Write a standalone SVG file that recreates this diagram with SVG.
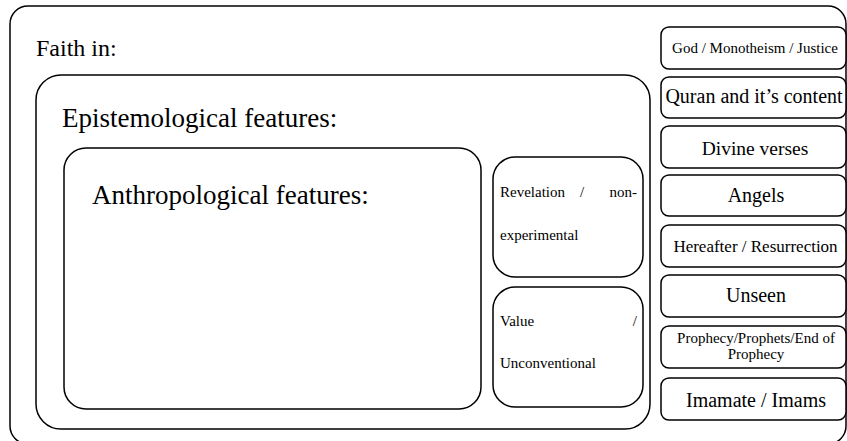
<svg xmlns="http://www.w3.org/2000/svg" width="847" height="441" viewBox="0 0 847 441">
<style>
.box{fill:#fff;stroke:#000;stroke-width:1.5}
.t{font-family:"Liberation Serif","Times New Roman",serif;fill:#000}
.rt{font-family:"Liberation Serif","Times New Roman",serif;fill:#000;text-anchor:middle}
</style>
<rect width="847" height="441" fill="#fff"/>
<g id="faith">
<rect class="box" x="10" y="6" width="836" height="438" rx="18"/>
<text class="t" x="36" y="56" font-size="24">Faith in:</text>
</g>
<g id="epistemological">
<rect class="box" x="36" y="75" width="614" height="354" rx="25"/>
<text class="t" x="62" y="127" font-size="27">Epistemological features:</text>
</g>
<g id="anthropological">
<rect class="box" x="64" y="148" width="417" height="261" rx="22"/>
<text class="t" x="92" y="204" font-size="27">Anthropological features:</text>
</g>
<g id="revelation">
<rect class="box" x="493" y="157" width="150" height="120" rx="22"/>
<text class="t" font-size="15"><tspan x="500" y="197">Revelation</tspan><tspan x="580" y="197">/</tspan><tspan x="637" y="197" text-anchor="end">non-</tspan><tspan x="500" y="240">experimental</tspan></text>
</g>
<g id="value">
<rect class="box" x="493" y="287" width="150" height="120" rx="22"/>
<text class="t" font-size="15"><tspan x="500" y="326">Value</tspan><tspan x="637" y="326" text-anchor="end">/</tspan><tspan x="500" y="368">Unconventional</tspan></text>
</g>
<g id="god">
<rect class="box" x="661" y="27" width="185" height="42" rx="8"/>
<text class="rt" x="755" y="53" font-size="15">God / Monotheism / Justice</text>
</g>
<g id="quran">
<rect class="box" x="661" y="77" width="185" height="41" rx="8"/>
<text class="rt" x="754" y="103" font-size="20">Quran and it’s content</text>
</g>
<g id="divine">
<rect class="box" x="661" y="126" width="185" height="42" rx="8"/>
<text class="rt" x="755" y="155" font-size="19.5">Divine verses</text>
</g>
<g id="angels">
<rect class="box" x="661" y="175" width="185" height="41" rx="8"/>
<text class="rt" x="756" y="202" font-size="20">Angels</text>
</g>
<g id="hereafter">
<rect class="box" x="661" y="225" width="185" height="42" rx="8"/>
<text class="rt" x="755.5" y="252" font-size="17">Hereafter / Resurrection</text>
</g>
<g id="unseen">
<rect class="box" x="661" y="275" width="185" height="42" rx="8"/>
<text class="rt" x="756" y="302" font-size="20">Unseen</text>
</g>
<g id="prophecy">
<rect class="box" x="661" y="326" width="185" height="42" rx="8"/>
<text class="rt" font-size="15"><tspan x="756" y="343">Prophecy/Prophets/End of</tspan><tspan x="756" y="359">Prophecy</tspan></text>
</g>
<g id="imamate">
<rect class="box" x="661" y="378" width="185" height="42" rx="8"/>
<text class="rt" x="756" y="407" font-size="20">Imamate / Imams</text>
</g>
<g id="connectors"></g>
</svg>
